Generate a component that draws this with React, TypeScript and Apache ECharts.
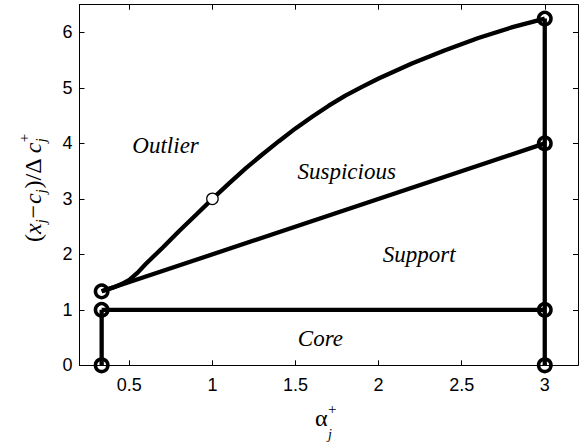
import React, { useEffect, useRef } from "react";
import * as echarts from "echarts";

const W = 579;
const H = 443;

// Region boundaries in (alpha_j^+, (x_j - c_j)/Δc_j^+) coordinates
const coreLeftX = [1 / 3, 1 / 3];
const coreLeftY = [0, 1];
const coreTopX = [1 / 3, 3];
const coreTopY = [1, 1];
const rightEdgeX = [3, 3];
const rightEdgeY = [0, 6.25];
const supportTopX = [1 / 3, 3];
const supportTopY = [4 / 3, 4];
const suspiciousX = [
  1 / 3, 0.4, 0.45, 0.5, 0.55, 0.6, 0.7, 0.8, 0.9, 1.0, 1.1, 1.2, 1.3, 1.4, 1.5,
  1.6, 1.7, 1.8, 1.9, 2.0, 2.2, 2.4, 2.6, 2.8, 3.0,
];
const suspiciousY = [
  4 / 3, 1.4, 1.46, 1.54, 1.67, 1.83, 2.12, 2.42, 2.71, 3.0, 3.28, 3.55, 3.8, 4.04,
  4.27, 4.48, 4.68, 4.86, 5.02, 5.17, 5.44, 5.68, 5.9, 6.09, 6.25,
];

// Corner nodes (hollow circles) and the reference point at alpha = 1
const nodeX = [1 / 3, 1 / 3, 1 / 3, 3, 3, 3, 3];
const nodeY = [0, 1, 4 / 3, 0, 1, 4, 6.25];
const pivotX = [1];
const pivotY = [3];

// Region names and where they sit
const regionNames = ["Outlier", "Suspicious", "Support", "Core"];
const regionX = [0.718, 1.808, 2.244, 1.65];
const regionY = [3.97, 3.49, 2.0, 0.486];

const xTicks = [0.5, 1, 1.5, 2, 2.5, 3];
const yTicks = [0, 1, 2, 3, 4, 5, 6];

const zip = (xs: number[], ys: number[]) => xs.map((x, i) => [x, ys[i]]);

const SERIF = '"Liberation Serif", "Times New Roman", serif';
const SANS = '"Liberation Sans", Arial, Helvetica, sans-serif';

type Piece = {
  text: string;
  italic?: boolean;
  size: number;
  dy?: number; // baseline shift (positive = below)
  dx?: number; // extra advance before the piece
  stack?: boolean; // share the start of the previous piece
};

const measureCtx =
  typeof document !== "undefined"
    ? document.createElement("canvas").getContext("2d")
    : null;

function textWidth(text: string, size: number, italic?: boolean) {
  if (!measureCtx) return text.length * size * 0.5;
  measureCtx.font = `${italic ? "italic " : ""}${size}px "Liberation Serif"`;
  return measureCtx.measureText(text).width;
}

function serifText(text: string, size: number, italic: boolean, align = "left") {
  return {
    text,
    fontSize: size,
    fontFamily: SERIF,
    fontStyle: italic ? "italic" : "normal",
    fill: "#000",
    textAlign: align,
    textVerticalAlign: "middle",
    align,
    verticalAlign: "middle",
  };
}

// Lay out a small TeX-like formula along its baseline (y = 0 is the baseline)
function formula(pieces: Piece[]) {
  let u = 0;
  let prevStart = 0;
  let prevEnd = 0;
  const out: any[] = [];
  for (const p of pieces) {
    const w = textWidth(p.text, p.size, p.italic);
    const start = p.stack ? prevStart : u + (p.dx ?? 0);
    const baseline = p.dy ?? 0;
    out.push({
      type: "text",
      x: start,
      y: baseline - 0.305 * p.size,
      style: serifText(p.text, p.size, !!p.italic),
    });
    const end = start + w;
    if (p.stack) {
      u = Math.max(prevEnd, end);
      prevEnd = u;
    } else {
      prevStart = start;
      prevEnd = end;
      u = end;
    }
  }
  return out;
}

const xTitle: Piece[] = [
  { text: "α", size: 24 },
  { text: "j", italic: true, size: 14, dy: 13.5, dx: 0.5 },
  { text: "+", size: 15, dy: -11, stack: true },
];

const yTitle: Piece[] = [
  { text: "(", size: 24 },
  { text: "x", italic: true, size: 24 },
  { text: "j", italic: true, size: 14, dy: 6 },
  { text: "−", size: 24, dx: 1 },
  { text: "c", italic: true, size: 24, dx: 1 },
  { text: "j", italic: true, size: 14, dy: 6 },
  { text: ")/Δ", size: 24, dx: 1 },
  { text: "c", italic: true, size: 24, dx: 5 },
  { text: "j", italic: true, size: 14, dy: 6, dx: 0.5 },
  { text: "+", size: 15, dy: -11, stack: true },
];

const lineStyle = { color: "#000", width: 4.3 };

function lineSeries(name: string, xs: number[], ys: number[]) {
  return {
    name,
    type: "line",
    data: zip(xs, ys),
    showSymbol: false,
    symbol: "none",
    smooth: false,
    lineStyle,
    z: 2,
    silent: true,
  };
}

function axisCommon(ticks: number[]) {
  return {
    type: "value",
    axisLine: { show: true, onZero: false, lineStyle: { color: "#000", width: 1 } },
    axisTick: {
      show: true,
      inside: true,
      length: 5,
      customValues: ticks,
      lineStyle: { color: "#000", width: 1 },
    },
    splitLine: { show: false },
  };
}

export default function App() {
  const ref = useRef<HTMLDivElement>(null);

  useEffect(() => {
    if (!ref.current) return;
    const chart = echarts.init(ref.current, null, {
      renderer: "svg",
      width: W,
      height: H,
    });

    const tickLabel = {
      fontSize: 18,
      fontFamily: SANS,
      color: "#000",
    };

    chart.setOption({
      animation: false,
      backgroundColor: "#fff",
      grid: {
        left: 79.5,
        right: 1,
        top: 4.7,
        bottom: 77.7,
        containLabel: false,
        outerBoundsMode: "none",
      },
      xAxis: [
        {
          ...axisCommon(xTicks),
          min: 0.2,
          max: 3.2,
          position: "bottom",
          axisLabel: {
            ...tickLabel,
            show: true,
            customValues: xTicks,
            margin: 11,
            formatter: (v: number) => String(v),
          },
        },
        {
          ...axisCommon(xTicks),
          min: 0.2,
          max: 3.2,
          position: "top",
          axisLabel: { show: false },
        },
      ],
      yAxis: [
        {
          ...axisCommon(yTicks),
          min: 0,
          max: 6.5,
          position: "left",
          axisLabel: {
            ...tickLabel,
            show: true,
            customValues: yTicks,
            margin: 7,
            formatter: (v: number) => String(v),
          },
        },
        {
          ...axisCommon(yTicks),
          min: 0,
          max: 6.5,
          position: "right",
          axisLabel: { show: false },
        },
      ],
      series: [
        lineSeries("core-left", coreLeftX, coreLeftY),
        lineSeries("core-top", coreTopX, coreTopY),
        lineSeries("right-edge", rightEdgeX, rightEdgeY),
        lineSeries("support-top", supportTopX, supportTopY),
        lineSeries("suspicious-top", suspiciousX, suspiciousY),
        {
          name: "nodes",
          type: "scatter",
          data: zip(nodeX, nodeY),
          symbol: "circle",
          symbolSize: 12.5,
          itemStyle: {
            color: "transparent",
            borderColor: "#000",
            borderWidth: 3.5,
            opacity: 1,
          },
          z: 3,
          silent: true,
          clip: false,
        },
        {
          name: "pivot",
          type: "scatter",
          data: zip(pivotX, pivotY),
          symbol: "circle",
          symbolSize: 11.5,
          itemStyle: { color: "#fff", borderColor: "#000", borderWidth: 1.2, opacity: 1 },
          z: 4,
          silent: true,
        },
      ],
    });

    // Region names, anchored at data coordinates of the plot
    const regionLabels = regionNames.map((name, i) => {
      const [px, py] = chart.convertToPixel({ gridIndex: 0 }, [regionX[i], regionY[i]]);
      return {
        type: "text",
        x: px,
        y: py,
        z: 10,
        silent: true,
        style: serifText(name, 23, true, "center"),
      };
    });

    chart.setOption({
      graphic: [
        {
          type: "group",
          x: 315,
          y: 425,
          children: formula(xTitle),
          silent: true,
        },
        {
          type: "group",
          x: 40,
          y: 242,
          rotation: Math.PI / 2,
          children: formula(yTitle),
          silent: true,
        },
        ...regionLabels,
      ],
    });

    return () => chart.dispose();
  }, []);

  return (
    <div
      ref={ref}
      style={{
        position: "fixed",
        left: 0,
        top: 0,
        width: W,
        height: H,
        background: "#fff",
      }}
    />
  );
}
